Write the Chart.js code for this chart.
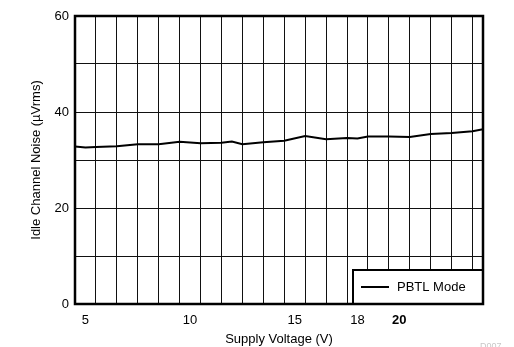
<!DOCTYPE html>
<html>
<head>
<meta charset="utf-8">
<script src="https://cdn.jsdelivr.net/npm/chart.js@4/dist/chart.umd.min.js"></script>
<style>
html,body{margin:0;padding:0;background:#fff;}
#wrap{width:514px;height:347px;position:relative;}
</style>
</head>
<body>
<div id="wrap"><canvas id="c" width="514" height="347"></canvas></div>
<script>
// Data
const voltages = [4.5, 5, 5.5, 6.5, 7.5, 8.5, 9.5, 10.5, 11.5, 12, 12.5, 13.5, 14.5, 15.5, 16.5, 17.5, 18, 18.5, 19.5, 20.5, 21.5, 22.5, 23.5, 24];
const noisePBTL = [32.8, 32.6, 32.7, 32.85, 33.3, 33.3, 33.8, 33.5, 33.6, 33.85, 33.3, 33.7, 34.0, 35.0, 34.3, 34.6, 34.5, 34.9, 34.9, 34.8, 35.4, 35.6, 36.0, 36.4];
const xTickLabels = [5, 10, 15, 18, 20];
const xGridValues = [5.5, 6.5, 7.5, 8.5, 9.5, 10.5, 11.5, 12.5, 13.5, 14.5, 15.5, 16.5, 17.5, 18.5, 19.5, 20.5, 21.5, 22.5, 23.5];
const yTickLabels = [0, 20, 40, 60];
const yGridValues = [0, 10, 20, 30, 40, 50, 60];
const seriesName = 'PBTL Mode';

const FONT = '"Liberation Sans", Arial, Helvetica, sans-serif';

const framePlugin = {
  id: 'frame',
  afterDraw(chart) {
    const {ctx, chartArea: a} = chart;
    ctx.save();
    // legend box
    const lw = 130, lh = 34;
    const lx = a.right - lw, ly = a.bottom - lh;
    ctx.fillStyle = '#fff';
    ctx.fillRect(lx, ly, lw, lh);
    ctx.strokeStyle = '#000';
    ctx.lineWidth = 2;
    ctx.strokeRect(lx, ly, lw, lh);
    ctx.beginPath();
    ctx.lineWidth = 2;
    ctx.moveTo(lx + 8, ly + 17);
    ctx.lineTo(lx + 36, ly + 17);
    ctx.stroke();
    ctx.fillStyle = '#000';
    ctx.font = '13px ' + FONT;
    ctx.textBaseline = 'middle';
    ctx.textAlign = 'left';
    ctx.fillText(chart.data.datasets[0].label, lx + 44, ly + 17);
    // frame
    ctx.lineWidth = 2.5;
    ctx.strokeRect(a.left, a.top, a.right - a.left, a.bottom - a.top);
    // watermark
    ctx.fillStyle = '#c8c8c8';
    ctx.font = '9px ' + FONT;
    ctx.textAlign = 'left';
    ctx.textBaseline = 'alphabetic';
    ctx.fillText('D007', 480, 349);
    ctx.restore();
  }
};

new Chart(document.getElementById('c'), {
  type: 'line',
  data: {
    datasets: [{
      label: seriesName,
      data: voltages.map((v, i) => ({x: v, y: noisePBTL[i]})),
      borderColor: '#000',
      borderWidth: 2,
      pointRadius: 0,
      tension: 0,
      fill: false
    }]
  },
  options: {
    responsive: false,
    animation: false,
    layout: {padding: {top: 16, right: 31, left: 0, bottom: 0}},
    plugins: {legend: {display: false}, tooltip: {enabled: false}},
    scales: {
      x: {
        type: 'linear',
        min: 4.5, max: 24,
        afterFit(s) { s.height = 43; },
        afterBuildTicks(s) {
          const vals = xTickLabels.concat(xGridValues).sort((a, b) => a - b);
          s.ticks = vals.map(v => ({value: v}));
        },
        grid: {
          drawTicks: false,
          color: (c) => (c.tick && xGridValues.includes(c.tick.value)) ? '#111' : 'rgba(0,0,0,0)',
          lineWidth: 1
        },
        border: {display: false},
        ticks: {
          autoSkip: false,
          maxRotation: 0,
          padding: 9,
          color: '#000',
          font: (c) => ({family: FONT, size: 13, weight: (c.tick && c.tick.value === 20) ? 'bold' : 'normal'}),
          callback: (v) => xTickLabels.includes(v) ? String(v) : ''
        },
        title: {
          display: true,
          text: 'Supply Voltage (V)',
          color: '#000',
          font: {family: FONT, size: 13},
          padding: {top: 0, bottom: 0}
        }
      },
      y: {
        min: 0, max: 60,
        afterFit(s) { s.width = 75; },
        afterBuildTicks(s) { s.ticks = yGridValues.map(v => ({value: v})); },
        grid: {drawTicks: false, color: '#111', lineWidth: 1},
        border: {display: false},
        ticks: {
          padding: 6,
          color: '#000',
          font: {family: FONT, size: 13},
          callback: (v) => yTickLabels.includes(v) ? String(v) : ''
        },
        title: {
          display: true,
          text: 'Idle Channel Noise (\u00b5Vrms)',
          color: '#000',
          font: {family: FONT, size: 13},
          padding: {top: 29, bottom: 0}
        }
      }
    }
  },
  plugins: [framePlugin]
});
</script>
</body>
</html>
